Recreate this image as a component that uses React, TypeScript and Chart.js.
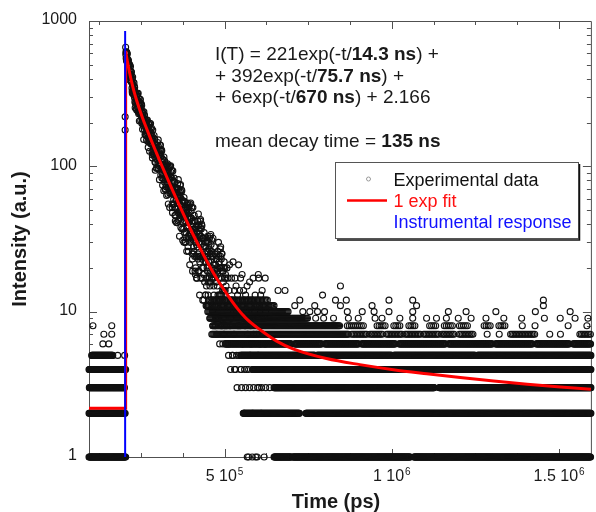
import React, { useEffect, useRef } from "react";
import { Chart, registerables } from "chart.js";

Chart.register(...registerables);

// ---------------- axes ----------------
const X_MIN = 95000;
const X_MAX = 1595000;
const Y_MIN = 1;
const Y_MAX = 1000;

const xMajorTicks = [500000, 1000000, 1500000];
const xTickMantissa = ["5 10", "1 10", "1.5 10"];
const xTickExponent = ["5", "6", "6"];
const xMinorTicks = [125000, 250000, 375000, 625000, 750000, 875000, 1125000, 1250000, 1375000];
const yMajorTicks = [1, 10, 100, 1000];
const yTickLabels = ["1", "10", "100", "1000"];
const yMinorTicks = [2, 3, 4, 5, 6, 7, 8, 9, 20, 30, 40, 50, 60, 70, 80, 90, 200, 300, 400, 500, 600, 700, 800, 900];

const xTitle = "Time (ps)";
const yTitle = "Intensity (a.u.)";

// ---------------- data ----------------
// decay readings: three interleaved channel sets, each 1.5 ns apart (ps)
const CHANNEL_PS = 1500;
const DECAY_START_PS = 204500;
const offsetA = 0;
const offsetB = 500;
const offsetC = 1000;

const decayCountsA = [
  660, 554, 611, 527, 539, 433, 480, 508, 414, 420,
  389, 421, 382, 328, 412, 338, 311, 339, 348, 253,
  321, 287, 244, 287, 257, 318, 230, 269, 235, 273,
  206, 237, 262, 203, 212, 232, 153, 214, 191, 211,
  194, 163, 207, 170, 187, 135, 170, 195, 146, 156,
  143, 169, 150, 120, 178, 135, 122, 144, 153, 94,
  142, 122, 97, 127, 110, 152, 96, 124, 103, 130,
  87, 109, 128, 89, 96, 111, 68, 101, 87, 101,
  91, 72, 102, 78, 91, 55, 81, 99, 65, 73,
  65, 84, 71, 52, 93, 64, 55, 71, 78, 42,
  71, 58, 41, 63, 51, 81, 43, 63, 48, 68,
  38, 54, 68, 41, 47, 58, 30, 52, 42, 52,
  46, 32, 54, 38, 47, 26, 41, 54, 30, 36,
  31, 44, 36, 23, 52, 31, 26, 37, 42, 18,
  38, 29, 17, 33, 25, 47, 19, 34, 24, 38,
  17, 29, 39, 20, 24, 32, 12, 28, 22, 30,
  25, 15, 31, 19, 26, 11, 22, 32, 15, 19,
  16, 26, 20, 10, 32, 17, 13, 21, 25, 9,
  23, 16, 9, 19, 13, 30, 9, 20, 13, 24,
  8, 17, 25, 11, 14, 20, 7, 17, 12, 18,
  15, 8, 20, 11, 17, 6, 14, 21, 8, 12,
  9, 17, 12, 5, 22, 10, 7, 14, 17, 4,
  15, 10, 3, 13, 8, 21, 5, 14, 8, 17,
  4, 11, 18, 6, 9, 14, 2, 12, 8, 13,
  10, 4, 15, 7, 12, 1, 9, 16, 5, 8,
  6, 12, 9, 2, 17, 7, 4, 10, 13, 1,
  11, 7, 1, 9, 5, 17, 3, 11, 6, 13,
  2, 9, 14, 4, 7, 11, 1, 9, 6, 10,
];

const decayCountsB = [
  589, 610, 555, 593, 471, 500, 505, 433, 498, 411,
  449, 380, 403, 318, 366, 318, 335, 356, 277, 323,
  294, 249, 310, 283, 250, 295, 244, 205, 261, 287,
  252, 268, 197, 215, 233, 196, 237, 179, 199, 164,
  171, 195, 176, 208, 148, 174, 186, 150, 197, 151,
  180, 143, 162, 114, 149, 123, 137, 154, 107, 140,
  124, 97, 140, 124, 105, 137, 105, 81, 120, 140,
  117, 130, 83, 97, 111, 87, 116, 78, 92, 69,
  75, 93, 81, 104, 64, 82, 91, 68, 100, 70,
  91, 66, 80, 48, 72, 55, 66, 78, 46, 69,
  59, 41, 71, 61, 48, 70, 49, 33, 61, 75,
  60, 69, 37, 47, 57, 41, 61, 35, 46, 30,
  35, 48, 39, 56, 28, 41, 48, 32, 55, 34,
  49, 32, 42, 19, 37, 25, 33, 42, 19, 37,
  30, 17, 39, 32, 23, 39, 24, 13, 33, 43,
  33, 40, 17, 24, 32, 20, 35, 16, 24, 13,
  17, 26, 20, 33, 13, 22, 27, 16, 33, 18,
  29, 17, 24, 8, 21, 12, 18, 25, 8, 21,
  16, 7, 23, 18, 12, 24, 13, 6, 20, 28,
  20, 25, 8, 14, 19, 11, 22, 8, 14, 6,
];

const decayCountsC = [
  615, 532, 601, 548, 489, 537, 457, 395, 460, 486,
  431, 445, 345, 363, 381, 328, 375, 297, 318, 271,
  276, 304, 277, 315, 238, 267, 280, 234, 290, 231,
  266, 219, 241, 180, 222, 189, 205, 225, 166, 205,
  185, 151, 202, 182, 158, 196, 157, 127, 174, 197,
  169, 183, 126, 142, 158, 129, 163, 117, 134, 106,
  113, 134, 118, 146, 97, 119, 129, 100, 139, 102,
  127, 97, 113, 74, 103, 82, 94, 109, 70, 98,
  85, 63, 99, 86, 71, 97, 71, 52, 85, 101,
  83, 94, 55, 67, 79, 59, 83, 52, 64, 46,
  51, 66, 56, 76, 42, 58, 66, 46, 74, 48,
  66, 46, 58, 31, 51, 37, 46, 57, 30, 50,
  41, 26, 52, 44, 33, 52, 34, 21, 44, 56,
  44, 52, 25, 33, 42, 28, 46, 24, 33, 20,
  24, 35, 28, 42, 19, 30, 36, 22, 42, 24,
  37, 23, 32, 12, 28, 18, 24, 32, 13, 28,
  22, 11, 30, 24, 16, 30, 17, 9, 25, 34,
  25, 31, 11, 18, 24, 15, 28, 11, 18, 9,
  12, 20, 15, 26, 9, 17, 22, 12, 27, 13,
  23, 13, 19, 6, 16, 9, 14, 20, 6, 17,
];

// stretches of channels sharing one count: [count, from (ns), to (ns), channel spacing (ns)]
const countRuns: [number, number, number, number][] = [
  // background before the pulse
  [1, 95, 205, 1.5], [2, 95, 203, 1.5], [3, 96, 201, 1.5], [4, 95, 205, 1.5], [5, 103, 166, 1.5],
  // tail
  [1, 648, 699, 1.5], [1, 704, 1055, 1.5], [1, 1066, 1595, 1.5],
  [2, 556, 724, 1.5], [2, 743, 1595, 1.5],
  [3, 648, 1127, 1.5], [3, 1142, 1595, 1.5],
  [4, 584, 1595, 1.5],
  [5, 548, 770, 1.5], [5, 776, 1000, 1.5], [5, 1006, 1250, 1.5], [5, 1256, 1595, 1.5],
  [6, 505, 700, 2], [6, 710, 790, 2], [6, 800, 900, 2], [6, 910, 1010, 2], [6, 1022, 1160, 2],
  [6, 1170, 1300, 2], [6, 1310, 1420, 2], [6, 1432, 1530, 2], [6, 1542, 1595, 2],
  [7, 462, 870, 3], [7, 880, 925, 4.5], [7, 935, 975, 4.5], [7, 985, 1030, 4.5], [7, 1040, 1085, 4.5],
  [7, 1095, 1140, 4.5], [7, 1150, 1190, 4.5], [7, 1202, 1246, 4.5], [7, 1285, 1289, 4.5], [7, 1321, 1325, 4.5],
  [7, 1355, 1429, 4.5], [7, 1472, 1476, 4.5], [7, 1504, 1508, 4.5], [7, 1562, 1595, 4.5],
  [8, 466, 846, 3], [8, 867, 917, 6], [8, 956, 980, 6], [8, 1006, 1024, 6], [8, 1051, 1074, 6],
  [8, 1113, 1134, 6], [8, 1157, 1184, 6], [8, 1202, 1228, 6], [8, 1276, 1296, 6], [8, 1320, 1341, 6],
  [8, 1390, 1393, 6], [8, 1428, 1431, 6], [8, 1527, 1530, 6], [8, 1583, 1586, 6],
  [9, 457, 750, 3], [10, 450, 690, 3], [11, 445, 650, 3.5], [12, 452, 630, 4],
];

// single points: [time (ns), count]
const singlePoints: [number, number][] = [
  [136.4, 6], [154.2, 6], [139.4, 7], [163, 7], [106.8, 8], [163, 8], [180.8, 5], [201.5, 5],
  [203, 219], [203, 178],
  [568, 1], [583, 1],
  [551, 3], [563, 3], [575, 3], [587, 3], [599, 3], [611, 3], [623, 3], [635, 3],
  [518, 4], [530, 4], [548, 4], [560, 4], [572, 4],
  [512, 5], [524, 5], [536, 5],
  [772.5, 9], [796.2, 9], [825.8, 9], [870.2, 9], [899.7, 9], [950, 9], [970.7, 9], [1024, 9],
  [1062.5, 9], [1103.9, 9], [1133.5, 9], [1163.1, 9], [1198.6, 9], [1237, 9], [1281.4, 9],
  [1334.7, 9], [1388, 9], [1456, 9], [1503.3, 9], [1547.7, 9], [1586.1, 9],
  [734, 10], [755, 10], [778, 10], [799, 10], [867, 10], [911.6, 10], [947, 10], [991.5, 10],
  [1062.5, 10], [1169, 10], [1222, 10], [1311, 10], [1429, 10], [1533, 10],
  [710, 11], [769.6, 11], [846.5, 11], [941, 11], [1074, 11], [1453, 11],
  [725, 12], [831.7, 12], [864, 12], [991.5, 12], [1062.5, 12], [1453, 12],
  [601, 18], [621.6, 17], [660, 14], [680.8, 14], [793, 13], [846.5, 15],
];

// fit curve (time in ns, intensity)
const fitStepTimes = [95, 204.5, 204.5];
const fitStepValues = [2.166, 2.166, 621];
const fitTimes = [204.5, 206.5, 209.5, 214.5, 219.5, 224.5, 229.5, 234.5, 244.5, 254.5, 264.5, 279.5,
  294.5, 309.5, 324.5, 344.5, 364.5, 384.5, 404.5, 429.5, 454.5, 479.5, 504.5, 534.5, 564.5,
  604.5, 654.5, 704.5, 804.5, 904.5, 1004.5, 1104.5, 1204.5, 1304.5, 1404.5, 1504.5, 1595];
const fitValues = [621, 582, 531, 462, 407, 364, 328, 299, 253, 217, 188.5, 154, 127, 105, 87.5,
  68.7, 54.3, 43.1, 34.5, 26.6, 20.7, 16.5, 13.5, 10.8, 9.0, 7.56, 6.3, 5.55, 4.76, 4.32, 3.99,
  3.74, 3.52, 3.33, 3.17, 3.03, 2.92];

// instrumental response
const irfTimes = [203, 203];
const irfValues = [1, 853];

// texts
const equationLines: [string, boolean][][] = [
  [["I(T) = 221exp(-t/", false], ["14.3 ns", true], [") +", false]],
  [["+ 392exp(-t/", false], ["75.7 ns", true], [") +", false]],
  [["+ 6exp(-t/", false], ["670 ns", true], [") + 2.166", false]],
  [],
  [["mean decay time = ", false], ["135 ns", true]],
];
const legendLabels = ["Experimental data", "1 exp fit", "Instrumental response"];
const legendColors = ["#111111", "#ff1010", "#1010ff"];

const FONT = '"Liberation Sans", Arial, sans-serif';
const font = (size: number, bold = false) => `${bold ? "bold " : ""}${size}px ${FONT}`;

const framePlugin = {
  id: "frame",
  beforeDatasetsDraw(chart: any) {
    const { ctx, chartArea: a, scales } = chart;
    const xs = scales.x;
    const ys = scales.y;
    ctx.save();
    ctx.strokeStyle = "#505050";
    ctx.lineWidth = 1;
    ctx.beginPath();
    ctx.rect(a.left + 0.5, a.top + 0.5, a.right - a.left, a.bottom - a.top);
    ctx.stroke();
    ctx.beginPath();
    const xTick = (v: number, len: number) => {
      const px = Math.round(xs.getPixelForValue(v)) + 0.5;
      ctx.moveTo(px, a.bottom);
      ctx.lineTo(px, a.bottom - len);
      ctx.moveTo(px, a.top);
      ctx.lineTo(px, a.top + len);
    };
    const yTick = (v: number, len: number) => {
      const py = Math.round(ys.getPixelForValue(v)) + 0.5;
      ctx.moveTo(a.left, py);
      ctx.lineTo(a.left + len, py);
      ctx.moveTo(a.right, py);
      ctx.lineTo(a.right - len, py);
    };
    xMinorTicks.forEach((v) => xTick(v, 4));
    xMajorTicks.forEach((v) => xTick(v, 8));
    yMinorTicks.forEach((v) => yTick(v, 4));
    yMajorTicks.forEach((v) => yTick(v, 8));
    ctx.stroke();
    ctx.restore();
  },
  afterDraw(chart: any) {
    const { ctx, chartArea: a, scales } = chart;
    const xs = scales.x;
    const ys = scales.y;
    ctx.save();
    ctx.fillStyle = "#1a1a1a";
    // y tick labels
    ctx.font = font(16);
    ctx.textAlign = "right";
    ctx.textBaseline = "middle";
    yMajorTicks.forEach((v, i) => {
      ctx.fillText(yTickLabels[i], 77, ys.getPixelForValue(v) - 1);
    });
    // x tick labels with exponent
    ctx.textAlign = "left";
    ctx.textBaseline = "alphabetic";
    xMajorTicks.forEach((v, i) => {
      ctx.font = font(16);
      const w1 = ctx.measureText(xTickMantissa[i]).width;
      ctx.font = font(10);
      const w2 = ctx.measureText(xTickExponent[i]).width;
      const x0 = xs.getPixelForValue(v) - (w1 + 1 + w2) / 2;
      ctx.font = font(16);
      ctx.fillText(xTickMantissa[i], x0, 480.5);
      ctx.font = font(10);
      ctx.fillText(xTickExponent[i], x0 + w1 + 1, 475);
    });
    // axis titles
    ctx.font = font(20, true);
    ctx.textAlign = "center";
    ctx.fillText(xTitle, 336, 508);
    ctx.save();
    ctx.translate(25.5, (a.top + a.bottom) / 2);
    ctx.rotate(-Math.PI / 2);
    ctx.fillText(yTitle, 0, 0);
    ctx.restore();
    // equation
    ctx.textAlign = "left";
    equationLines.forEach((line, i) => {
      let x = 215;
      const y = 60 + i * 21.7;
      line.forEach(([t, b]) => {
        ctx.font = font(19, b);
        ctx.fillText(t, x, y);
        x += ctx.measureText(t).width;
      });
    });
    // legend box
    ctx.fillStyle = "#ffffff";
    ctx.fillRect(335.5, 162.5, 243, 76);
    ctx.strokeStyle = "#555555";
    ctx.lineWidth = 1;
    ctx.strokeRect(335.5, 162.5, 243, 76);
    ctx.strokeStyle = "#111111";
    ctx.lineWidth = 1.5;
    ctx.beginPath();
    ctx.moveTo(579.5, 164);
    ctx.lineTo(579.5, 240);
    ctx.lineTo(337, 240);
    ctx.stroke();
    // legend symbols
    ctx.strokeStyle = "#9a9a9a";
    ctx.lineWidth = 1;
    ctx.beginPath();
    ctx.arc(368.5, 179, 2, 0, Math.PI * 2);
    ctx.stroke();
    ctx.strokeStyle = "#ff0000";
    ctx.lineWidth = 2.5;
    ctx.beginPath();
    ctx.moveTo(347, 200.5);
    ctx.lineTo(387, 200.5);
    ctx.stroke();
    ctx.font = font(18);
    legendLabels.forEach((t, i) => {
      ctx.fillStyle = legendColors[i];
      ctx.fillText(t, 393.5, 185.5 + i * 21.2);
    });
    ctx.restore();
  },
};

export default function App() {
  const ref = useRef<HTMLCanvasElement>(null);
  useEffect(() => {
    const canvas = ref.current;
    if (!canvas) return;
    const exp: { x: number; y: number }[] = [];
    const addDecay = (counts: number[], offset: number) =>
      counts.forEach((c, i) => exp.push({ x: DECAY_START_PS + offset + i * CHANNEL_PS, y: c }));
    addDecay(decayCountsA, offsetA);
    addDecay(decayCountsB, offsetB);
    addDecay(decayCountsC, offsetC);
    countRuns.forEach(([c, from, to, step]) => {
      for (let t = from; t <= to + 1e-9; t += step) exp.push({ x: t * 1000, y: c });
    });
    singlePoints.forEach(([t, c]) => exp.push({ x: t * 1000, y: c }));
    const fitStep = fitStepTimes.map((t, i) => ({ x: t * 1000, y: fitStepValues[i] }));
    const fit = fitTimes.map((t, i) => ({ x: t * 1000, y: fitValues[i] }));
    const irf = irfTimes.map((t, i) => ({ x: t * 1000, y: irfValues[i] }));

    const chart = new Chart(canvas, {
      type: "scatter",
      data: {
        datasets: [
          {
            label: "Instrumental response",
            data: irf,
            showLine: true,
            borderColor: "#0000ff",
            borderWidth: 2,
            pointRadius: 0,
            order: 0,
            clip: false,
          } as any,
          {
            label: "1 exp fit",
            data: fitStep,
            showLine: true,
            borderColor: "#ff0000",
            borderWidth: 3,
            pointRadius: 0,
            order: 1,
          } as any,
          {
            label: "1 exp fit",
            data: fit,
            showLine: true,
            borderColor: "#ff0000",
            borderWidth: 3,
            pointRadius: 0,
            cubicInterpolationMode: "monotone",
            order: 1,
          } as any,
          {
            label: "Experimental data",
            data: exp,
            pointRadius: 3,
            pointBorderWidth: 1.1,
            pointBorderColor: "#111111",
            pointBackgroundColor: "rgba(0,0,0,0)",
            pointStyle: "circle",
            order: 2,
            clip: false,
          } as any,
        ],
      },
      options: {
        responsive: false,
        animation: false,
        events: [],
        layout: { padding: { left: 89, top: 21, right: 0, bottom: 55 } },
        scales: {
          x: { type: "linear", min: X_MIN, max: X_MAX, display: false },
          y: { type: "logarithmic", min: Y_MIN, max: Y_MAX, display: false },
        },
        plugins: { legend: { display: false }, tooltip: { enabled: false } },
      },
      plugins: [framePlugin],
    });
    return () => chart.destroy();
  }, []);
  return (
    <div style={{ position: "absolute", left: 0, top: 0, width: 596, height: 512, background: "#fff" }}>
      <canvas ref={ref} width={596} height={512} style={{ display: "block" }} />
    </div>
  );
}
